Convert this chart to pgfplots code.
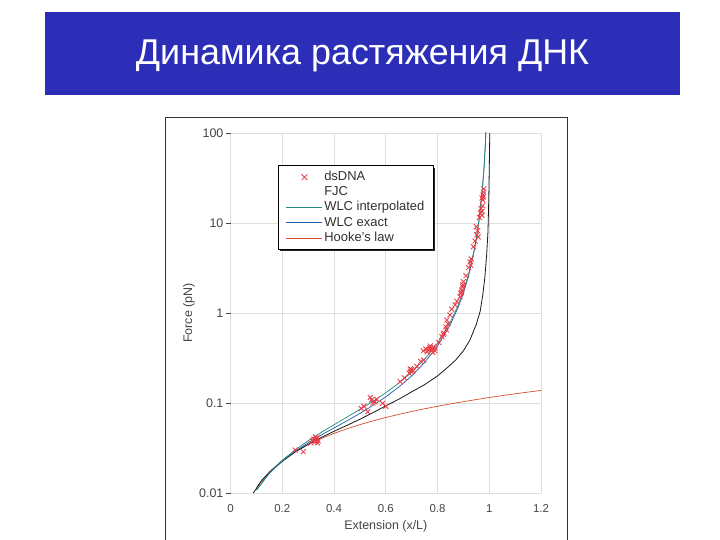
\documentclass[border=0pt]{standalone}
\usepackage{fontspec}
\setmainfont{Liberation Sans}
\usepackage{pgfplots}
\pgfplotsset{compat=1.18}

\definecolor{bannerblue}{RGB}{44,46,184}
\definecolor{labelgray}{RGB}{70,70,70}
\definecolor{gridgray}{RGB}{222,222,222}
\definecolor{dnared}{RGB}{236,60,70}
\definecolor{wlcteal}{RGB}{30,140,120}
\definecolor{wlcblue}{RGB}{30,90,170}
\definecolor{hookered}{RGB}{210,80,45}
\definecolor{fjcblack}{RGB}{25,25,25}

\begin{document}
\begin{tikzpicture}
\fill[white] (0,0) rectangle (720bp,540bp);
\useasboundingbox (0,0) rectangle (720bp,540bp);
% title banner
\fill[bannerblue] (45bp,445bp) rectangle (680bp,528bp);
\node[white, font=\fontsize{36}{42}\selectfont] at (362.5bp,484bp) {Динамика растяжения ДНК};
% frame of the inserted figure
\draw[black!80, line width=0.8bp] (165.5bp,0) -- (165.5bp,423bp) -- (567bp,423bp) -- (567bp,0);

\begin{axis}[
    at={(230.6bp,47bp)}, anchor=south west,
    scale only axis,
    width=310.4bp, height=360bp,
    xmin=0, xmax=1.2,
    ymin=0.01, ymax=100,
    ymode=log,
    xtick={0,0.2,0.4,0.6,0.8,1,1.2},
    xticklabels={0,0.2,0.4,0.6,0.8,1,1.2},
    ytick={0.01,0.1,1,10,100},
    yticklabels={0.01,0.1,1,10,100},
    yminorticks=false,
    xtick pos=bottom, ytick pos=left,
    axis line style={draw=none},
    xtick style={draw=none},
    ytick style={draw=labelgray, line width=0.7bp},
    tick align=outside,
    major tick length=5bp,
    grid=major,
    major grid style={gridgray, line width=0.9bp},
    xticklabel style={font=\fontsize{11.5}{13}\selectfont, text=labelgray, yshift=-3bp},
    yticklabel style={font=\fontsize{12.5}{14}\selectfont, text=labelgray, inner sep=2bp},
    xlabel={Extension (x/L)},
    ylabel={Force (pN)},
    xlabel style={font=\fontsize{12.5}{14}\selectfont, text=labelgray,
        at={(axis description cs:0.5,-0.0917)}, anchor=center},
    ylabel style={font=\fontsize{12.5}{14}\selectfont, text=labelgray,
        at={(axis description cs:-0.134,0.5)}, anchor=center},
    legend cell align=left,
    legend style={
        at={(0.1527,0.911)}, anchor=north west,
        draw=black, line width=1bp, fill=white,
        font=\fontsize{13}{15}\selectfont, text=labelgray!70!black,
        inner xsep=7.5bp, inner ysep=4bp,
        nodes={inner sep=1.5bp, text height=9.5bp, text depth=2.7bp},
    },
    legend image code/.code={\draw[#1] (0bp,0bp) -- (36bp,0bp);},
  ]

  % Hooke's law
  \addplot[hookered, line width=0.7bp, forget plot] coordinates {
    (0.10,0.0115) (0.15,0.01725) (0.20,0.0230) (0.25,0.02875) (0.30,0.0345)
    (0.35,0.04025) (0.40,0.0460) (0.45,0.05175) (0.50,0.0575) (0.55,0.06325)
    (0.60,0.0690) (0.65,0.07475) (0.70,0.0805) (0.75,0.08625) (0.80,0.0920)
    (0.85,0.09775) (0.90,0.1035) (0.95,0.10925) (1.00,0.1150) (1.05,0.12075)
    (1.10,0.1265) (1.15,0.13225) (1.20,0.1380)
  };

  % FJC
  \addplot[fjcblack, line width=0.8bp, forget plot] coordinates {
    (0.088,0.0100) (0.12,0.0138) (0.16,0.0180) (0.20,0.0225) (0.25,0.0286)
    (0.30,0.0348) (0.35,0.0413) (0.40,0.0485) (0.45,0.0565) (0.50,0.0660)
    (0.55,0.0780) (0.60,0.0930) (0.65,0.1100) (0.70,0.1330) (0.75,0.1600)
    (0.80,0.2000) (0.84,0.2500) (0.87,0.3000) (0.90,0.3800) (0.925,0.5000)
    (0.95,0.7500) (0.965,1.05) (0.975,1.60) (0.983,2.50) (0.99,4.50)
    (0.995,8.0) (0.998,18.0) (1.000,40.0) (1.002,100.0)
  };

  % WLC exact
  \addplot[wlcblue, line width=0.7bp, forget plot] coordinates {
    (0.10,0.01079) (0.15,0.01656) (0.20,0.02270) (0.25,0.02916) (0.30,0.03619)
    (0.35,0.04398) (0.40,0.05283) (0.45,0.06352) (0.50,0.07650) (0.55,0.09392)
    (0.60,0.11705) (0.65,0.15021) (0.70,0.19974) (0.75,0.28152) (0.80,0.43003)
    (0.85,0.74858) (0.88,1.16223) (0.90,1.66571) (0.92,2.59374) (0.94,4.62607)
    (0.95,6.67641) (0.96,10.4598) (0.97,18.7485) (0.975,27.249) (0.98,42.550)
    (0.985,75.606) (0.9875,108.85)
  };

  % WLC interpolated
  \addplot[wlcteal, line width=0.7bp, forget plot] coordinates {
    (0.10,0.01079) (0.15,0.01673) (0.20,0.02316) (0.25,0.03022) (0.30,0.03809)
    (0.35,0.04704) (0.40,0.05742) (0.45,0.06980) (0.50,0.08500) (0.55,0.10435)
    (0.60,0.13005) (0.65,0.16598) (0.70,0.21949) (0.75,0.30600) (0.80,0.46240)
    (0.85,0.79636) (0.88,1.22340) (0.90,1.74420) (0.92,2.70181) (0.94,4.76914)
    (0.95,6.84760) (0.96,10.6733) (0.97,18.9379) (0.975,27.249) (0.98,42.550)
    (0.985,75.606) (0.9875,108.85)
  };

  % dsDNA measurements
  \addplot[only marks, mark=x, mark size=3.5bp, dnared,
           mark options={line width=0.85bp}, forget plot] coordinates {
    (0.249,0.030) (0.281,0.0288) (0.310,0.036) (0.318,0.038) (0.322,0.040)
    (0.326,0.037) (0.330,0.039) (0.334,0.041) (0.338,0.038) (0.328,0.042)
    (0.336,0.036)
    (0.505,0.087) (0.515,0.092) (0.530,0.080) (0.540,0.115) (0.545,0.108)
    (0.550,0.100) (0.558,0.103) (0.565,0.110) (0.588,0.099) (0.600,0.092)
    (0.655,0.173) (0.672,0.190) (0.690,0.215) (0.697,0.225) (0.700,0.235)
    (0.705,0.228) (0.695,0.240) (0.720,0.255) (0.735,0.290) (0.746,0.300)
    (0.745,0.380) (0.755,0.400) (0.760,0.370) (0.765,0.390) (0.770,0.410)
    (0.775,0.385) (0.780,0.400) (0.785,0.420) (0.790,0.380) (0.790,0.405)
    (0.782,0.365) (0.772,0.430)
    (0.805,0.470) (0.817,0.546) (0.822,0.580) (0.825,0.600) (0.832,0.700)
    (0.836,0.836) (0.840,0.760) (0.834,0.650) (0.848,0.950) (0.855,1.100)
    (0.868,1.230) (0.875,1.350)
    (0.887,1.520) (0.890,1.650) (0.894,1.800) (0.897,1.950) (0.900,2.230)
    (0.892,1.700) (0.898,2.050)
    (0.910,2.600) (0.920,3.200) (0.926,3.700) (0.930,4.000) (0.928,3.400)
    (0.939,5.450) (0.945,6.300) (0.952,7.400) (0.950,9.100) (0.955,8.200)
    (0.957,7.000) (0.962,11.50) (0.966,12.80) (0.971,13.40) (0.968,14.50)
    (0.974,15.50) (0.972,12.20) (0.972,19.00) (0.976,20.50) (0.978,22.00)
    (0.979,24.00) (0.975,18.00) (0.977,19.50)
  };

  % shadow behind the legend box
  \fill[black!85] (rel axis cs:0.1607,0.671) rectangle (rel axis cs:0.659,0.904);

  % legend
  \addlegendimage{legend image code/.code={
      \draw[dnared, line width=0.75bp] (18bp,0bp) +(-3bp,-3bp) -- +(3bp,3bp)
        +(-3bp,3bp) -- +(3bp,-3bp);}}
  \addlegendentry{dsDNA}
  \addlegendimage{legend image code/.code={}}
  \addlegendentry{FJC}
  \addlegendimage{wlcteal, line width=0.8bp}
  \addlegendentry{WLC interpolated}
  \addlegendimage{wlcblue, line width=0.8bp}
  \addlegendentry{WLC exact}
  \addlegendimage{hookered, line width=0.8bp}
  \addlegendentry{Hooke's law}
\end{axis}
\end{tikzpicture}
\end{document}
